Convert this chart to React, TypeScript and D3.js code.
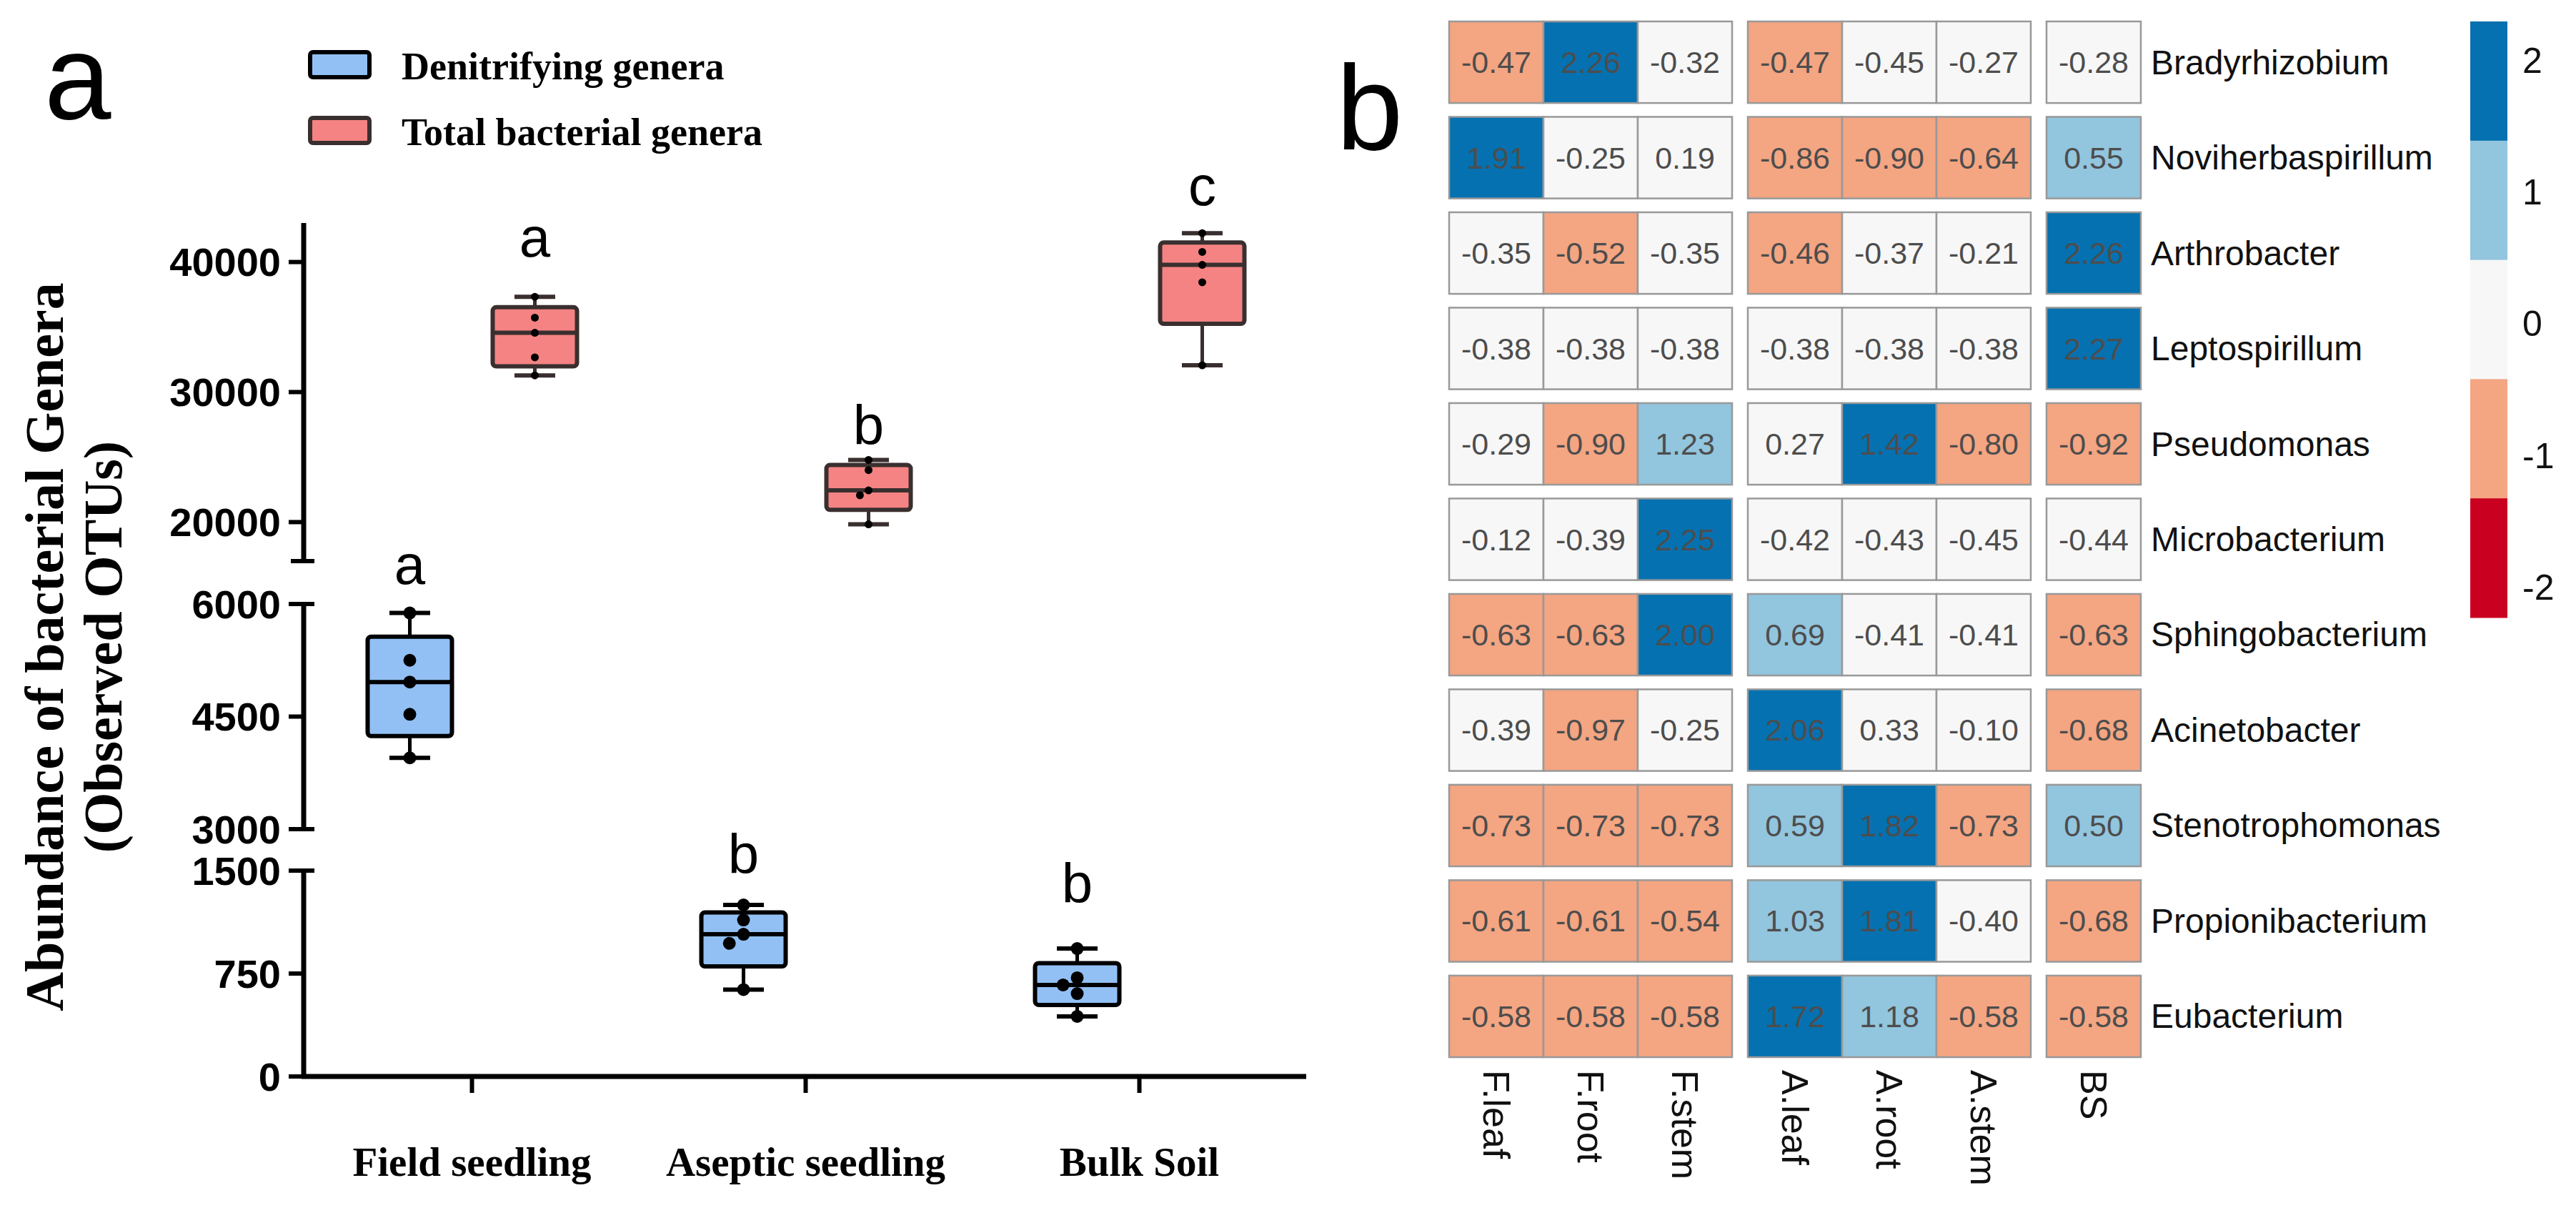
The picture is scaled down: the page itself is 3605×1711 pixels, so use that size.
import React, { useEffect, useRef } from 'react';
import * as d3 from 'd3';

// ---- panel a data ----
const categories = ['Field seedling', 'Aseptic seedling', 'Bulk Soil'];
const seriesNames = ['Denitrifying genera', 'Total bacterial genera'];

const denitrifying = [
  [5880, 5250, 4960, 4530, 3950],
  [1250, 1140, 1036, 970, 633],
  [932, 719, 667, 604, 438],
];
const totalBacterial = [
  [37330, 35720, 34560, 32670, 31280],
  [24780, 24000, 22440, 22060, 19830],
  [42220, 40780, 39780, 38440, 32060],
];
const denitrifyingLetters = ['a', 'b', 'b'];
const totalLetters = ['a', 'b', 'c'];
// value at which each significance letter sits
const denitrifyingLetterAt = [6270, 1480, 1265];
const totalLetterAt = [40390, 25940, 44390];

// broken y axis: three segments
const upperDomain = [17000, 43000];
const middleDomain = [3000, 6000];
const lowerDomain = [0, 1500];
const upperTicks = [20000, 30000, 40000];
const middleTicks = [3000, 4500, 6000];
const lowerTicks = [0, 750, 1500];

// ---- panel b data ----
const genera = [
  'Bradyrhizobium', 'Noviherbaspirillum', 'Arthrobacter', 'Leptospirillum', 'Pseudomonas',
  'Microbacterium', 'Sphingobacterium', 'Acinetobacter', 'Stenotrophomonas',
  'Propionibacterium', 'Eubacterium',
];
const samples = ['F.leaf', 'F.root', 'F.stem', 'A.leaf', 'A.root', 'A.stem', 'BS'];
const sampleGroup = [0, 0, 0, 1, 1, 1, 2];
const zScores = [
  [-0.47, 2.26, -0.32, -0.47, -0.45, -0.27, -0.28],
  [1.91, -0.25, 0.19, -0.86, -0.90, -0.64, 0.55],
  [-0.35, -0.52, -0.35, -0.46, -0.37, -0.21, 2.26],
  [-0.38, -0.38, -0.38, -0.38, -0.38, -0.38, 2.27],
  [-0.29, -0.90, 1.23, 0.27, 1.42, -0.80, -0.92],
  [-0.12, -0.39, 2.25, -0.42, -0.43, -0.45, -0.44],
  [-0.63, -0.63, 2.00, 0.69, -0.41, -0.41, -0.63],
  [-0.39, -0.97, -0.25, 2.06, 0.33, -0.10, -0.68],
  [-0.73, -0.73, -0.73, 0.59, 1.82, -0.73, 0.50],
  [-0.61, -0.61, -0.54, 1.03, 1.81, -0.40, -0.68],
  [-0.58, -0.58, -0.58, 1.72, 1.18, -0.58, -0.58],
];
const colorBreaks = [-1.38, -0.455, 0.46, 1.38];
const heatColors = ['#ca0020', '#f4a582', '#f7f7f7', '#92c5de', '#0571b0'];
const legendRange = [-2.23, 2.3];
const legendTicks = [2, 1, 0, -1, -2];

const SERIF = "'Liberation Serif', 'Times New Roman', serif";
const SANS = "'Liberation Sans', Arial, sans-serif";

// quartiles the way Prism does it: position p*(n+1)
function quart(sorted: number[], p: number) {
  const pos = p * (sorted.length + 1) - 1;
  const lo = Math.max(0, Math.floor(pos));
  const hi = Math.min(sorted.length - 1, lo + 1);
  return sorted[lo] + (pos - lo) * (sorted[hi] - sorted[lo]);
}

const App: React.FC = () => {
  const svgRef = useRef<SVGSVGElement>(null);

  useEffect(() => {
    if (!svgRef.current) return;
    document.body.style.margin = '0';
    const svg = d3.select(svgRef.current);
    svg.selectAll('*').remove();

    // ================= panel a =================
    const axisX = 425;
    const xScale = d3.scaleBand().domain(categories).range([427, 1828]);
    const yUpper = d3.scaleLinear().domain(upperDomain).range([785, 312]);
    const yMiddle = d3.scaleLinear().domain(middleDomain).range([1160, 845]);
    const yLower = d3.scaleLinear().domain(lowerDomain).range([1506, 1218]);
    const yOf = (v: number) => (v >= 12000 ? yUpper(v) : v >= 2400 ? yMiddle(v) : yLower(v));

    const a = svg.append('g');

    // y axis segments
    [yUpper, yMiddle, yLower].forEach((sc, i) => {
      const [r0, r1] = sc.range();
      a.append('line')
        .attr('x1', axisX).attr('x2', axisX)
        .attr('y1', i === 2 ? r0 + 3 : r0).attr('y2', r1)
        .attr('stroke', '#000').attr('stroke-width', 7);
    });
    // break caps
    [yUpper.range()[0], yMiddle.range()[1], yMiddle.range()[0], yLower.range()[1]].forEach(y => {
      a.append('line')
        .attr('x1', axisX - 18).attr('x2', axisX + 15)
        .attr('y1', y).attr('y2', y)
        .attr('stroke', '#000').attr('stroke-width', 6);
    });
    const tickSets: [d3.ScaleLinear<number, number>, number[]][] = [
      [yUpper, upperTicks], [yMiddle, middleTicks], [yLower, lowerTicks],
    ];
    tickSets.forEach(([sc, ticks]) => {
      ticks.forEach(t => {
        a.append('line')
          .attr('x1', axisX - 21).attr('x2', axisX)
          .attr('y1', sc(t)).attr('y2', sc(t))
          .attr('stroke', '#000').attr('stroke-width', 6);
        a.append('text')
          .attr('x', 393).attr('y', sc(t))
          .attr('text-anchor', 'end').attr('dominant-baseline', 'central')
          .attr('font-family', SANS).attr('font-weight', 'bold').attr('font-size', 56)
          .text(t);
      });
    });

    // x axis
    a.append('line')
      .attr('x1', axisX - 3).attr('x2', 1828)
      .attr('y1', 1506).attr('y2', 1506)
      .attr('stroke', '#000').attr('stroke-width', 7);
    categories.forEach(c => {
      const cx = (xScale(c) as number) + xScale.bandwidth() / 2;
      a.append('line')
        .attr('x1', cx).attr('x2', cx).attr('y1', 1506).attr('y2', 1529)
        .attr('stroke', '#000').attr('stroke-width', 6);
      a.append('text')
        .attr('x', cx).attr('y', 1645)
        .attr('text-anchor', 'middle')
        .attr('font-family', SERIF).attr('font-weight', 'bold').attr('font-size', 57)
        .text(c);
    });

    // y title
    const titleG = a.append('g').attr('transform', 'translate(0,905) rotate(-90)');
    titleG.append('text').attr('x', 0).attr('y', 88)
      .attr('text-anchor', 'middle')
      .attr('font-family', SERIF).attr('font-weight', 'bold').attr('font-size', 76)
      .text('Abundance of bacterial Genera');
    titleG.append('text').attr('x', 0).attr('y', 170)
      .attr('text-anchor', 'middle')
      .attr('font-family', SERIF).attr('font-weight', 'bold').attr('font-size', 76)
      .text('(Observed OTUs)');

    // boxes
    const boxW = 118;
    const capW = 57;
    const series = [
      { data: denitrifying, letters: denitrifyingLetters, letterAt: denitrifyingLetterAt,
        fill: '#92c0f4', stroke: '#000', offset: -87, r: 9 },
      { data: totalBacterial, letters: totalLetters, letterAt: totalLetterAt,
        fill: '#f58383', stroke: '#3a2f2f', offset: 88, r: 5.5 },
    ];
    series.forEach(s => {
      s.data.forEach((vals, i) => {
        const cx = (xScale(categories[i]) as number) + xScale.bandwidth() / 2 + s.offset;
        const sorted = [...vals].sort((p, q) => p - q);
        const q1 = quart(sorted, 0.25);
        const med = quart(sorted, 0.5);
        const q3 = quart(sorted, 0.75);
        const mn = sorted[0];
        const mx = sorted[sorted.length - 1];
        const g = a.append('g');
        g.append('line').attr('x1', cx).attr('x2', cx).attr('y1', yOf(mx)).attr('y2', yOf(mn))
          .attr('stroke', s.stroke).attr('stroke-width', 5);
        [mn, mx].forEach(v => {
          g.append('line').attr('x1', cx - capW / 2).attr('x2', cx + capW / 2)
            .attr('y1', yOf(v)).attr('y2', yOf(v))
            .attr('stroke', s.stroke).attr('stroke-width', 6);
        });
        g.append('rect')
          .attr('x', cx - boxW / 2).attr('y', yOf(q3))
          .attr('width', boxW).attr('height', yOf(q1) - yOf(q3))
          .attr('rx', 5)
          .attr('fill', s.fill).attr('stroke', s.stroke).attr('stroke-width', 6);
        g.append('line').attr('x1', cx - boxW / 2).attr('x2', cx + boxW / 2)
          .attr('y1', yOf(med)).attr('y2', yOf(med))
          .attr('stroke', s.stroke).attr('stroke-width', 6);

        // points with a small horizontal spread where they would overlap
        const placed: { x: number; y: number }[] = [];
        const ordered = [...vals].sort((p, q) => q - p);
        ordered.forEach(v => {
          const y = yOf(v);
          const cands = [0, -2.2 * s.r, 2.2 * s.r, -4.4 * s.r, 4.4 * s.r];
          let dx = 0;
          for (const c of cands) {
            if (placed.every(p => Math.hypot(p.x - c, p.y - y) >= 2 * s.r)) { dx = c; break; }
          }
          placed.push({ x: dx, y });
          g.append('circle').attr('cx', cx + dx).attr('cy', y).attr('r', s.r).attr('fill', '#000');
        });

        a.append('text')
          .attr('x', cx).attr('y', yOf(s.letterAt[i]))
          .attr('text-anchor', 'middle')
          .attr('font-family', SANS).attr('font-size', 78)
          .text(s.letters[i]);
      });
    });

    // legend
    series.forEach((s, i) => {
      const y = 73 + i * 92;
      a.append('rect').attr('x', 434).attr('y', y).attr('width', 83).attr('height', 35)
        .attr('rx', 4)
        .attr('fill', s.fill).attr('stroke', s.stroke).attr('stroke-width', 6);
      a.append('text').attr('x', 562).attr('y', y + 38)
        .attr('font-family', SERIF).attr('font-weight', 'bold').attr('font-size', 54)
        .text(seriesNames[i]);
    });

    // panel letters
    svg.append('text').attr('x', 62).attr('y', 166)
      .attr('font-family', SANS).attr('font-size', 168).text('a');
    svg.append('text').attr('x', 1870).attr('y', 209)
      .attr('font-family', SANS).attr('font-size', 168).text('b');

    // ================= panel b =================
    const b = svg.append('g');
    const rowScale = d3.scaleBand().domain(genera).range([30, 1479]).paddingInner(0.145);
    const cellW = 132;
    const groupGap = 22;
    const colX = (j: number) => 2028 + j * cellW + sampleGroup[j] * groupGap;
    const color = d3.scaleThreshold<number, string>().domain(colorBreaks).range(heatColors);

    zScores.forEach((row, i) => {
      const y = rowScale(genera[i]) as number;
      row.forEach((v, j) => {
        b.append('rect')
          .attr('x', colX(j)).attr('y', y)
          .attr('width', cellW).attr('height', rowScale.bandwidth())
          .attr('fill', color(v))
          .attr('stroke', '#999999').attr('stroke-width', 2.5);
        b.append('text')
          .attr('x', colX(j) + cellW / 2).attr('y', y + rowScale.bandwidth() / 2)
          .attr('text-anchor', 'middle').attr('dominant-baseline', 'central')
          .attr('font-family', SANS).attr('font-size', 43)
          .attr('fill', '#4d4d4d')
          .text(v.toFixed(2));
      });
      b.append('text')
        .attr('x', colX(samples.length - 1) + cellW + 14)
        .attr('y', y + rowScale.bandwidth() / 2)
        .attr('dominant-baseline', 'central')
        .attr('font-family', SANS).attr('font-size', 48).attr('fill', '#111')
        .text(genera[i]);
    });

    samples.forEach((s, j) => {
      b.append('text')
        .attr('transform', `translate(${colX(j) + cellW / 2},1497) rotate(90)`)
        .attr('dominant-baseline', 'central')
        .attr('font-family', SANS).attr('font-size', 52).attr('fill', '#111')
        .text(s);
    });

    // colour key
    const keyTop = 30;
    const keyBottom = 864;
    const segH = (keyBottom - keyTop) / heatColors.length;
    [...heatColors].reverse().forEach((c, k) => {
      b.append('rect')
        .attr('x', 3457).attr('y', keyTop + k * segH)
        .attr('width', 52).attr('height', segH + 0.5)
        .attr('fill', c);
    });
    const keyScale = d3.scaleLinear().domain(legendRange).range([keyBottom, keyTop]);
    legendTicks.forEach(t => {
      b.append('text')
        .attr('x', 3530).attr('y', keyScale(t))
        .attr('dominant-baseline', 'central')
        .attr('font-family', SANS).attr('font-size', 50).attr('fill', '#111')
        .text(t);
    });
  }, []);

  return (
    <svg ref={svgRef} width={3605} height={1711} style={{ display: 'block', background: '#fff' }} />
  );
};

export default App;
